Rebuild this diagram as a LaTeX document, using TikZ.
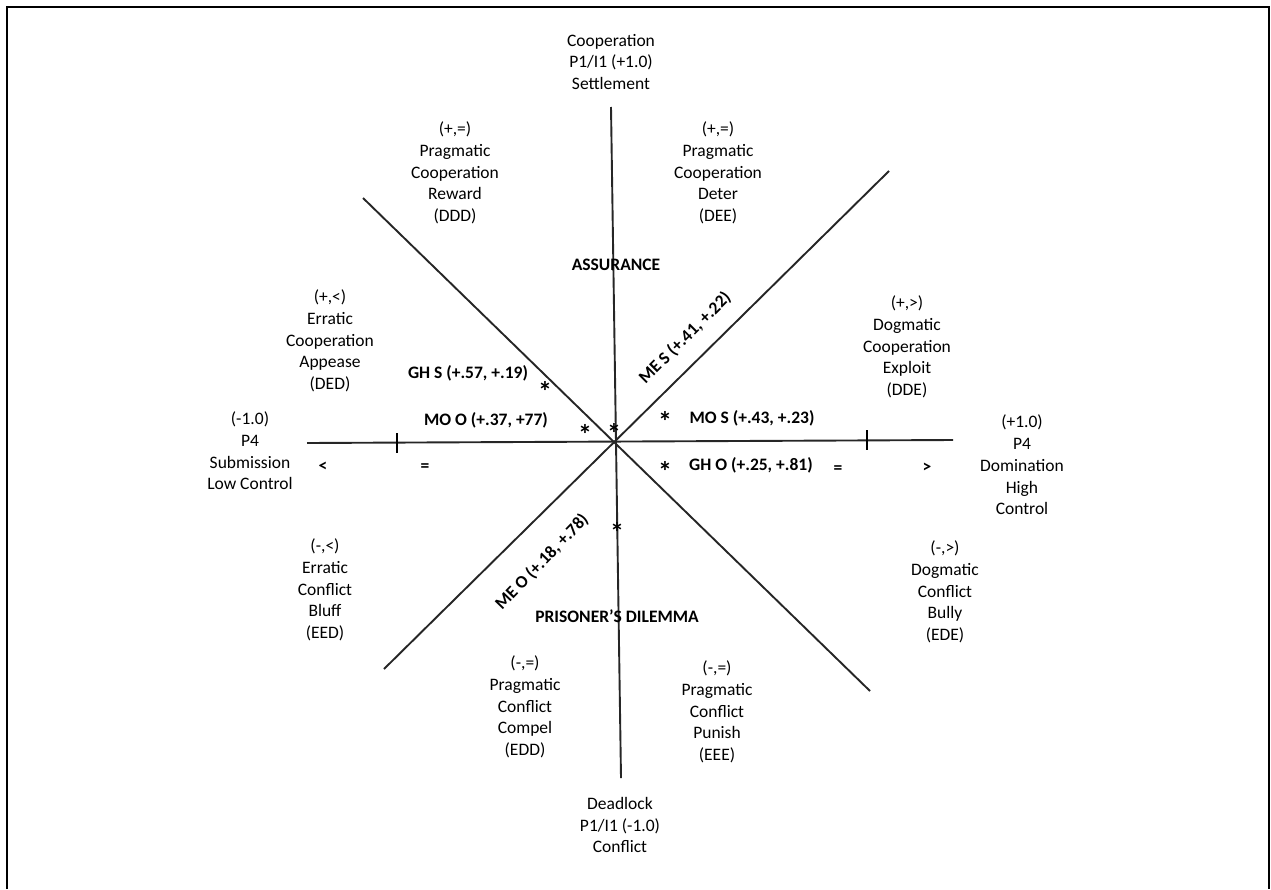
\documentclass[tikz,border=0pt]{standalone}
\usepackage{fontspec}
\setmainfont{Carlito}
\begin{document}
\begin{tikzpicture}[x=1pt,y=-1pt,
  axis/.style={line width=1.9pt, black!85},
  lbl/.style={align=center, inner sep=0pt, font=\fontsize{17.5}{21.7}\selectfont},
  blbl/.style={inner sep=0pt, font=\fontsize{17.5}{21.7}\selectfont\bfseries},
  ast/.style={inner sep=0pt, font=\fontsize{28}{28}\selectfont\bfseries}]
\useasboundingbox (0,0) rectangle (1271,889);
% frame
\draw[line width=2pt] (7,889) -- (7,7) -- (1269,7) -- (1269,889);
% coordinates of axis ends
\coordinate (vt) at (611,107);
\coordinate (vb) at (621,778);
\coordinate (hl) at (307,443);
\coordinate (hr) at (953,440);
\coordinate (nw) at (363,198);
\coordinate (se) at (870,691);
\coordinate (ne) at (889,171);
\coordinate (sw) at (384,669);
\coordinate (tl1) at (397,433);
\coordinate (tl2) at (397,453);
\coordinate (tr1) at (867,430);
\coordinate (tr2) at (867,450);
\draw[axis] (vt) -- (vb);
\draw[axis] (hl) -- (hr);
\draw[axis] (nw) -- (se);
\draw[axis] (ne) -- (sw);
\draw[line width=2.8pt] (tl1) -- (tl2);
\draw[line width=2.8pt] (tr1) -- (tr2);
% outer labels
\node[lbl] (coop) at (611,62) {Cooperation\\P1/I1 (+1.0)\\Settlement};
\node[lbl] (reward) at (455,173) {(+,=)\\Pragmatic\\Cooperation\\Reward\\(DDD)};
\node[lbl] (deter) at (718,173) {(+,=)\\Pragmatic\\Cooperation\\Deter\\(DEE)};
\node[lbl] (appease) at (330,341) {(+,<)\\Erratic\\Cooperation\\Appease\\(DED)};
\node[lbl] (exploit) at (907,347) {(+,>)\\Dogmatic\\Cooperation\\Exploit\\(DDE)};
\node[lbl] (subm) at (250,451) {(-1.0)\\P4\\Submission\\Low Control};
\node[lbl] (domin) at (1022,465) {(+1.0)\\P4\\Domination\\High\\Control};
\node[lbl] (bluff) at (325,590) {(-,<)\\Erratic\\Conflict\\Bluff\\(EED)};
\node[lbl] (bully) at (945,592) {(-,>)\\Dogmatic\\Conflict\\Bully\\(EDE)};
\node[lbl] (compel) at (525,707) {(-,=)\\Pragmatic\\Conflict\\Compel\\(EDD)};
\node[lbl] (punish) at (717,712) {(-,=)\\Pragmatic\\Conflict\\Punish\\(EEE)};
\node[lbl] (dead) at (620,825) {Deadlock\\P1/I1 (-1.0)\\Conflict};
% inner bold labels
\node[blbl] (assur) at (616,265) {ASSURANCE};
\node[blbl] (pd) at (617,616) {PRISONER'S DILEMMA};
\node[blbl] (lt) at (323,467) {<};
\node[blbl] (eql) at (425,468) {=};
\node[blbl] (eqr) at (838,470) {=};
\node[blbl] (gt) at (927,468) {>};
\node[blbl] (ghs) at (468,373) {GH S (+.57, +.19)};
\node[blbl] (moo) at (486,420) {MO O (+.37, +77)};
\node[blbl] (mos) at (752,418) {MO S (+.43, +.23)};
\node[blbl] (gho) at (751,465) {GH O (+.25, +.81)};
\node[blbl, rotate=45] (mes) at (685,338) {ME S (+.41, +.22)};
\node[blbl, rotate=46] (meo) at (542,562) {ME O (+.18, +.78)};
% asterisks
\node[ast] (a1) at (545,391) {*};
\node[ast] (a2) at (585,434) {*};
\node[ast] (a3) at (614,433) {*};
\node[ast] (a4) at (665,421) {*};
\node[ast] (a5) at (665,471) {*};
\node[ast] (a6) at (617,532) {*};
\end{tikzpicture}
\end{document}
